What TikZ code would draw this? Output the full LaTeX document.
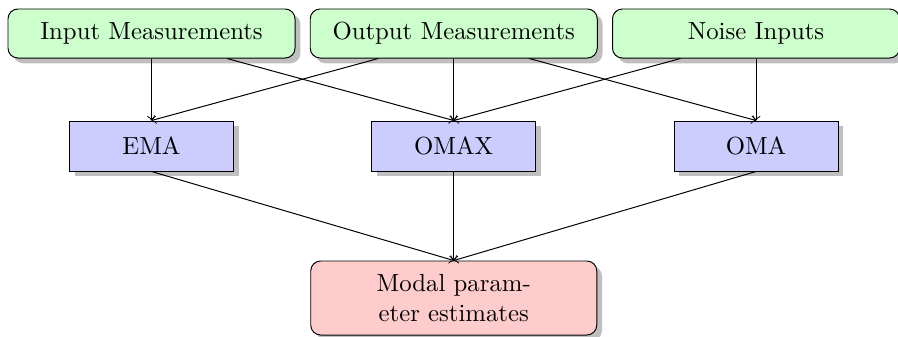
\documentclass[tikz,border=0pt]{standalone}
\usetikzlibrary{shadows}
\begin{document}
\begin{tikzpicture}[x=0.40404pt,y=-0.40404pt,
  srcbox/.style={draw, rounded corners=4pt, fill=green!20, drop shadow, inner sep=0pt,
    minimum width=115.96pt, minimum height=19.8pt, align=center},
  methbox/.style={draw, fill=blue!20, drop shadow, inner sep=0pt,
    minimum width=66.26pt, minimum height=20.2pt, align=center},
  resbox/.style={draw, rounded corners=4pt, fill=red!20, drop shadow, inner sep=0pt,
    minimum width=115.56pt, minimum height=29.9pt, align=center},
  conn/.style={->}]
\useasboundingbox (0,0) rectangle (898,336);
\node[srcbox] (input) at (151.5,33.5) {Input Measurements};
\node[srcbox] (output) at (453.75,33.5) {Output Measurements};
\node[srcbox] (noise) at (756,33.5) {Noise Inputs};
\node[methbox] (ema) at (151.5,146) {EMA};
\node[methbox] (omax) at (453.75,146) {OMAX};
\node[methbox] (oma) at (756,146) {OMA};
\node[resbox] (modal) at (453.75,298) {Modal param-\\eter estimates};
\draw[conn] (input.south) -- (ema.north);
\draw[conn] ([xshift=30.5pt]input.south) -- (omax.north);
\draw[conn] ([xshift=-30.5pt]output.south) -- (ema.north);
\draw[conn] (output.south) -- (omax.north);
\draw[conn] ([xshift=30.5pt]output.south) -- (oma.north);
\draw[conn] ([xshift=-30.5pt]noise.south) -- (omax.north);
\draw[conn] (noise.south) -- (oma.north);
\draw[conn] (ema.south) -- (modal.north);
\draw[conn] (omax.south) -- (modal.north);
\draw[conn] (oma.south) -- (modal.north);
\end{tikzpicture}
\end{document}
